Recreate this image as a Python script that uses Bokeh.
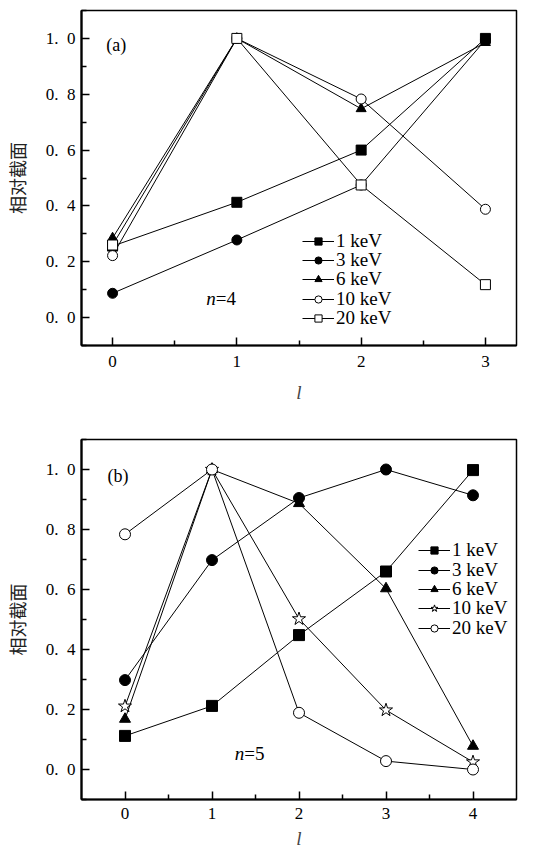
from bokeh.plotting import figure
from bokeh.layouts import column
from bokeh.models import FixedTicker, Range1d, Legend, LegendItem, Label, CustomJSTickFormatter
from bokeh.embed import file_html
from bokeh.resources import INLINE

# ---------------- data ----------------
energies = ["1 keV", "3 keV", "6 keV", "10 keV", "20 keV"]

l_a = [0, 1, 2, 3]
a_1kev = [0.256, 0.413, 0.600, 1.000]
a_3kev = [0.087, 0.278, 0.475, 0.995]
a_6kev = [0.285, 1.000, 0.748, 0.985]
a_10kev = [0.222, 1.000, 0.783, 0.388]
a_20kev = [0.260, 1.000, 0.475, 0.118]

l_b = [0, 1, 2, 3, 4]
b_1kev = [0.112, 0.212, 0.448, 0.660, 0.998]
b_3kev = [0.298, 0.698, 0.905, 1.000, 0.914]
b_6kev = [0.168, 1.000, 0.887, 0.603, 0.078]
b_10kev = [0.211, 1.000, 0.502, 0.198, 0.025]
b_20kev = [0.784, 1.000, 0.189, 0.028, 0.000]

y_ticks = [0.0, 0.2, 0.4, 0.6, 0.8, 1.0]
y_tick_labels = ["0.\u20020", "0.\u20022", "0.\u20024", "0.\u20026", "0.\u20028", "1.\u20020"]
y_minor = [-0.1, 0.1, 0.3, 0.5, 0.7, 0.9, 1.1]
xticks_a = [0, 1, 2, 3]
xminor_a = [0.5, 1.5, 2.5]
xticks_b = [0, 1, 2, 3, 4]
xminor_b = [0.5, 1.5, 2.5, 3.5]

markers_a = [("square", True), ("circle", True), ("triangle", True), ("circle", False), ("square", False)]
markers_b = [("square", True), ("circle", True), ("triangle", True), ("star", False), ("circle", False)]

SERIF = "Times New Roman, Liberation Serif, DejaVu Serif, serif"
CJK = "Noto Sans CJK SC"


def make_panel(ls, series, markers, xr, frame_h, top, bottom, xticks, xminor,
               tag, tag_x, tag_y, n_text, n_x, n_y, leg_x, leg_y0, leg_pitch, msize,
               lab_off, ax_off):
    p = figure(frame_width=435, frame_height=frame_h, output_backend="svg",
               toolbar_location=None, x_range=Range1d(*xr), y_range=Range1d(-0.1, 1.1),
               min_border_left=81, min_border_right=10, min_border_top=top,
               min_border_bottom=bottom)
    p.grid.visible = False
    p.outline_line_color = "black"
    p.outline_line_width = 1.5
    p.background_fill_color = "white"

    p.xaxis.ticker = FixedTicker(ticks=xticks, minor_ticks=xminor)
    p.yaxis.ticker = FixedTicker(ticks=y_ticks, minor_ticks=y_minor)
    p.yaxis.formatter = CustomJSTickFormatter(
        args=dict(tvals=y_ticks, tlabels=y_tick_labels),
        code="""
        for (let i = 0; i < tvals.length; i++) {
            if (Math.abs(tvals[i] - tick) < 1e-6) { return tlabels[i]; }
        }
        return '';
        """)
    for ax in (p.xaxis[0], p.yaxis[0]):
        ax.axis_line_width = 2.2
        ax.axis_line_color = "black"
        ax.major_tick_in = 8
        ax.major_tick_out = 0
        ax.minor_tick_in = 5
        ax.minor_tick_out = 0
        ax.major_tick_line_width = 1.5
        ax.minor_tick_line_width = 1.5
        ax.major_tick_line_color = "black"
        ax.minor_tick_line_color = "black"
        ax.major_label_text_font = SERIF
        ax.major_label_text_font_size = "17px"
        ax.major_label_text_color = "black"
    p.xaxis.major_label_standoff = lab_off
    p.yaxis.major_label_standoff = 6
    p.xaxis.axis_label = "l"
    p.xaxis.axis_label_text_font = SERIF
    p.xaxis.axis_label_text_font_style = "italic"
    p.xaxis.axis_label_text_font_size = "19px"
    p.xaxis.axis_label_standoff = ax_off
    p.yaxis.axis_label = "相对截面"
    p.yaxis.axis_label_text_font = CJK
    p.yaxis.axis_label_text_font_style = "normal"
    p.yaxis.axis_label_text_font_size = "18px"
    p.yaxis.axis_label_text_color = "#222222"
    p.yaxis.axis_label_standoff = 13

    lines = []
    for ys in series:
        lines.append(p.line(ls, ys, line_color="black", line_width=1))
    n = len(series)
    for i, (name, ys, (mk, filled), lr) in enumerate(zip(energies, series, markers, lines)):
        sr = p.scatter(ls, ys, marker=mk, size=msize * (1.25 if mk == "star" else 1.0),
                       line_color="black", line_width=1,
                       fill_color="black" if filled else "white")
        leg = Legend(items=[LegendItem(label=name, renderers=[lr, sr])],
                     location=(leg_x, round(leg_y0 + (n - 1 - i) * leg_pitch)),
                     border_line_color=None, background_fill_alpha=0,
                     padding=0, margin=0, spacing=0,
                     glyph_width=32, glyph_height=18, label_height=18,
                     label_standoff=2, label_text_font=SERIF,
                     label_text_font_size="19px", label_text_color="black")
        p.add_layout(leg)

    p.add_layout(Label(x=tag_x, y=tag_y, text=tag, text_font=SERIF,
                       text_font_size="18px", text_baseline="middle", text_color="black"))
    p.add_layout(Label(x=n_x, y=n_y, text="n", text_font=SERIF, text_font_style="italic",
                       text_font_size="19px", text_baseline="middle", text_align="right",
                       text_color="black"))
    p.add_layout(Label(x=n_x, y=n_y, text=n_text, text_font=SERIF,
                       text_font_size="19px", text_baseline="middle", text_align="left",
                       text_color="black"))
    return p


pa = make_panel(l_a, [a_1kev, a_3kev, a_6kev, a_10kev, a_20kev], markers_a,
                (-0.25, 3.25), 335, 10, 60, xticks_a, xminor_a,
                "(a)", -0.05, 0.975, "=4", 0.83, 0.067, 221, 16, 19.3, 10, 10, 12)
pb = make_panel(l_b, [b_1kev, b_3kev, b_6kev, b_10kev, b_20kev], markers_b,
                (-0.5, 4.5), 360, 34, 40, xticks_b, xminor_b,
                "(b)", -0.2, 0.98, "=5", 1.37, 0.055, 337, 160, 19.5, 11, 8, 6)

layout = column(pa, pb)
open("out.html", "w").write(file_html(layout, INLINE))
